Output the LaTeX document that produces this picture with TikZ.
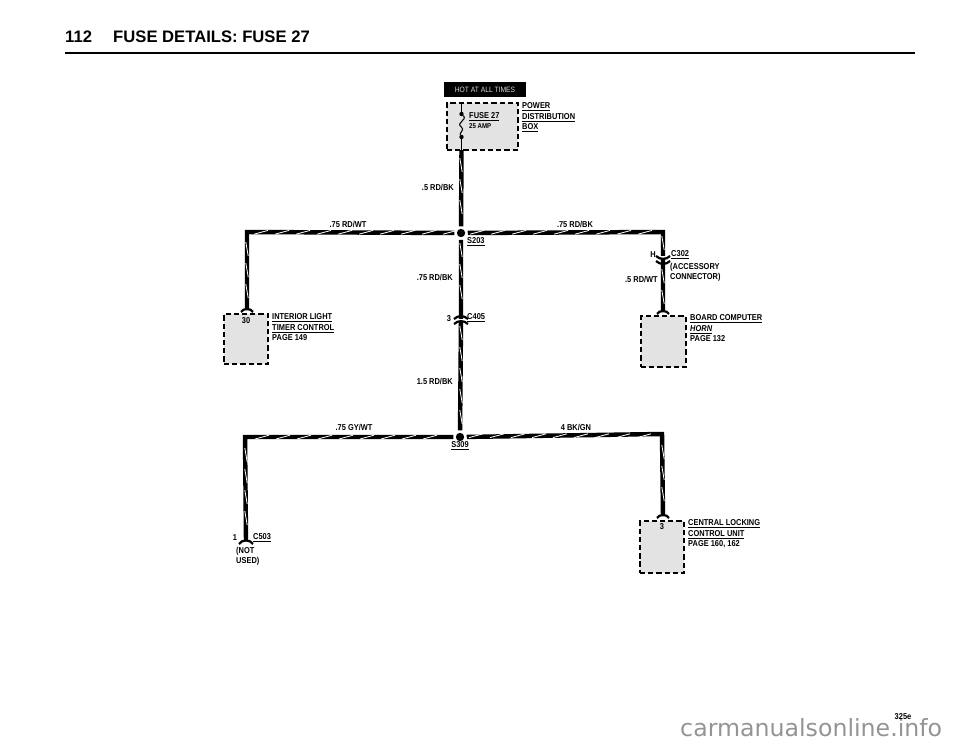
\documentclass[tikz,border=0pt]{standalone}
\usepackage{fontspec}
\setmainfont{Liberation Sans}
\newfontfamily\wirefont[FakeStretch=0.87]{Liberation Sans}
\newfontfamily\sitefont{DejaVu Sans}
\usetikzlibrary{shapes,arrows}

\tikzset{
  wire/.style = {line width=3.8pt, line join=miter},
  stripe/.style = {white, line width=0.7pt},
  thinwire/.style = {line width=0.9pt},
  connarc/.style = {line width=1.9pt},
  splice/.style = {circle, fill=black, minimum size=0.25cm, inner sep=0pt, outer sep=2.2pt},
  compbox/.style = {draw, fill=black!11, line width=1.2pt, dash pattern=on 4.5pt off 2.5pt, inner sep=0pt, outer sep=0pt},
  lbl/.style = {font=\wirefont\bfseries\fontsize{7.3}{8.9}\selectfont, inner sep=0pt, align=left},
  dot/.style = {circle, fill=black, minimum size=0.13cm, inner sep=0pt}
}

\begin{document}
\begin{tikzpicture}[x=0.03cm, y=-0.03cm]
\useasboundingbox (0,0) rectangle (960,746);

% heading
\node[font=\bfseries\fontsize{14.2}{16}\selectfont, inner sep=0pt, anchor=west] (pageno) at (65,37) {112};
\node[font=\bfseries\fontsize{14.2}{16}\selectfont, inner sep=0pt, anchor=west] (heading) at (113,37) {FUSE DETAILS: FUSE 27};
\coordinate (rulea) at (65,53);
\coordinate (ruleb) at (915,53);
\draw [line width=2.1pt] (rulea) -- (ruleb);

% power distribution box
\node[fill=black, minimum width=2.46cm, minimum height=0.45cm, inner sep=0pt, text=black!15, font=\wirefont\fontsize{6.6}{8}\selectfont] (hot) at (485,89.5) {HOT AT ALL TIMES};
\node[compbox, minimum width=2.13cm, minimum height=1.41cm] (pwrbox) at (482.5,126.5) {};
\node[lbl, anchor=north west] (pwrtext) at (522,102.5) {\underline{POWER}\\\underline{DISTRIBUTION}\\\underline{BOX}};
\node[lbl, anchor=west] (fusename) at (469,117) {\underline{FUSE 27}};
\node[lbl, anchor=west, font=\wirefont\bfseries\fontsize{6}{8}\selectfont] (fuseamp) at (469,126) {25 AMP};

% fuse
\coordinate (fusetop) at (461.5,103);
\coordinate (fusebot) at (461.5,150);
\node[dot] (fusea) at (461.5,114) {};
\node[dot] (fuseb) at (461.5,137) {};
\draw [thinwire] (fusetop) -- (fusea);
\draw [thinwire] (fusea) .. controls (468,120) and (455,123) .. (461.5,127) .. controls (465,130) and (459,133) .. (fuseb);
\draw [thinwire] (fuseb) -- (fusebot);

% splices and pins
\node[splice] (s203) at (461,233) {};
\node[splice] (s309) at (460,437) {};
\coordinate (c405) at (461,319);
\coordinate (c302) at (663,257);
\coordinate (pin30) at (247,310);
\coordinate (pinhorn) at (663,312);
\coordinate (pinlock) at (663,516);
\coordinate (pin503) at (246,540);
\coordinate (cnr30) at (247,232);
\coordinate (cnr302) at (663,232);
\coordinate (cnr503) at (245,437);
\coordinate (cnrlock) at (662,434);

% wires
\draw [wire] (fusebot) -- (s203);
\draw [wire] (s203) -- (c405) -- (s309);
\draw [wire] (s203) -- (cnr30) -- (pin30);
\draw [wire] (s203) -- (cnr302) -- (c302) -- (pinhorn);
\draw [wire] (s309) -- (cnr503) -- (pin503);
\draw [wire] (s309) -- (cnrlock) -- (pinlock);

% white stripes on the wires
\foreach \t in {261, 282, ..., 450}
\draw [stripe] ({\t-7},234.2) -- ({\t+7},230.4);
\foreach \t in {477, 498, ..., 655}
\draw [stripe] ({\t-7},234.2) -- ({\t+7},230.4);
\foreach \t in {262, 283, ..., 450}
\draw [stripe] ({\t-7},439) -- ({\t+7},435.2);
\foreach \t in {476, 497, ..., 655}
\draw [stripe] ({\t-7},437.6) -- ({\t+7},433.8);
\foreach \t in {165, 186, 207}
\draw [stripe] (459.8,{\t-7}) -- (462.2,{\t+7});
\foreach \t in {250, 271, 292, 333, 354, 375, 396, 417}
\draw [stripe] (459.8,{\t-7}) -- (462.2,{\t+7});
\foreach \t in {249, 270, 291}
\draw [stripe] (245.8,{\t-7}) -- (248.2,{\t+7});
\foreach \t in {243, 276, 297}
\draw [stripe] (661.8,{\t-7}) -- (664.2,{\t+7});
\foreach \t in {455, 476, 497, 518}
\draw [stripe] (244.8,{\t-7}) -- (247.2,{\t+7});
\foreach \t in {452, 473, 494}
\draw [stripe] (661.8,{\t-7}) -- (664.2,{\t+7});

% connectors
\draw [white, line width=2.6pt] (c405) ++(-7,1.5) -- ++(14,0);
\draw [connarc] (c405) ++(-7,0) to[bend left=45] ++(14,0);
\draw [connarc] (c405) ++(-7,5) to[bend left=45] ++(14,0);
\draw [white, line width=2.6pt] (c302) ++(-7,0.5) -- ++(14,0);
\draw [connarc] (c302) ++(-7,-1) to[bend right=45] ++(14,0);
\draw [connarc] (c302) ++(-7,4) to[bend right=45] ++(14,0);
\draw [connarc] (pin30) ++(-6,2) to[bend left=60] ++(12,0);
\draw [connarc] (pinhorn) ++(-6,2) to[bend left=60] ++(12,0);
\draw [connarc] (pinlock) ++(-6,2) to[bend left=60] ++(12,0);
\draw [connarc] (pin503) ++(-7,4) to[bend left=60] ++(14,0);

% components
\node[compbox, minimum width=1.32cm, minimum height=1.5cm] (box30) at (246,339) {};
\node[compbox, minimum width=1.35cm, minimum height=1.53cm] (boxhorn) at (663.5,341.5) {};
\node[compbox, minimum width=1.32cm, minimum height=1.56cm] (boxlock) at (662,547) {};
\node[lbl, anchor=center] (pinno30) at (246,320.5) {30};
\node[lbl, anchor=center] (pinnolock) at (662,527) {3};
\node[lbl, anchor=north west] (txt30) at (272,313.5) {\underline{INTERIOR LIGHT}\\\underline{TIMER CONTROL}\\PAGE 149};
\node[lbl, anchor=north west] (txthorn) at (690,314.5) {\underline{BOARD COMPUTER}\\\underline{\itshape HORN}\\PAGE 132};
\node[lbl, anchor=north west] (txtlock) at (688,519.5) {\underline{CENTRAL LOCKING}\\\underline{CONTROL UNIT}\\PAGE 160, 162};

% wire labels
\node[lbl, anchor=east] (w1) at (454,187) {.5 RD/BK};
\node[lbl] (w2) at (348,224) {.75 RD/WT};
\node[lbl] (w3) at (575,224) {.75 RD/BK};
\node[lbl, anchor=east] (w4) at (453,277) {.75 RD/BK};
\node[lbl, anchor=east] (w5) at (453,381) {1.5 RD/BK};
\node[lbl, anchor=east] (w6) at (658,279) {.5 RD/WT};
\node[lbl] (w7) at (354,427) {.75 GY/WT};
\node[lbl] (w8) at (576,427) {4 BK/GN};

% splice and connector labels
\node[lbl, anchor=west] (t203) at (467,242) {\underline{S203}};
\node[lbl] (t309) at (460,446) {\underline{S309}};
\node[lbl] (t3) at (449,319) {3};
\node[lbl, anchor=west] (t405) at (467,318) {\underline{C405}};
\node[lbl] (th) at (653,255) {H};
\node[lbl, anchor=west] (t302) at (671,255) {\underline{C302}};
\node[lbl, anchor=north west] (tacc) at (670,263) {(ACCESSORY\\CONNECTOR)};
\node[lbl] (t1) at (235,538) {1};
\node[lbl, anchor=west] (t503) at (253,538) {\underline{C503}};
\node[lbl, anchor=north west] (tnot) at (236,547) {(NOT\\USED)};

% corner marks
\node[font=\sitefont\fontsize{20.2}{22}\selectfont, text=black!42, inner sep=0pt, anchor=base west] (site) at (680,736) {carmanualsonline.info};
\node[lbl] (sheet) at (903,717) {325e};

\end{tikzpicture}
\end{document}
